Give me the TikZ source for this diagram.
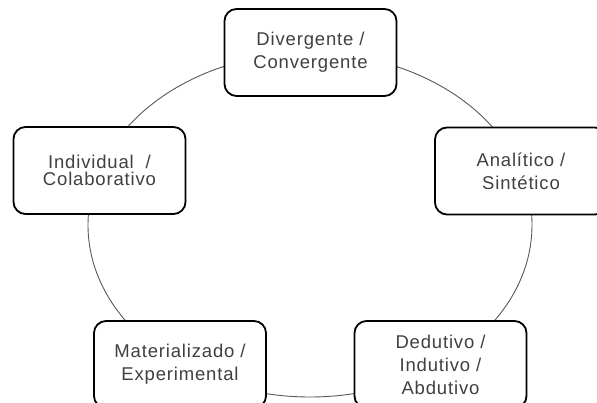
\documentclass[tikz,border=0pt]{standalone}
\usepackage{fontspec}
\setmainfont[LetterSpace=4.5]{Liberation Sans}
\begin{document}
\begin{tikzpicture}[x=1pt,y=-1pt,
  box/.style={draw=black, line width=1.8pt, rounded corners=12pt, fill=white,
    minimum width=172pt, minimum height=87pt, inner sep=0pt, align=center,
    text=black!75, font=\fontsize{18.5}{23}\selectfont},
  ring/.style={draw=black!65, line width=0.9pt}]
\clip (0,0) rectangle (597,403);
\useasboundingbox (0,0) rectangle (597,403);
\fill[white] (0,0) rectangle (597,403);
\path[ring] (310,225) ellipse [x radius=222pt, y radius=172pt];
\node[box] (nTop) at (310.5,52.5) {Divergente /\\Convergente};
\node[box, font=\fontsize{18.5}{17}\selectfont] (nLeft) at (99.5,170.5) {Individual\ \ /\\Colaborativo};
\node[box] (nRight) at (521,171) {Analítico /\\Sintético};
\node[box] (nBL) at (180,364.5) {Materializado /\\Experimental};
\node[box] (nBR) at (440.5,364.5) {Dedutivo /\\Indutivo /\\Abdutivo};
\end{tikzpicture}
\end{document}
